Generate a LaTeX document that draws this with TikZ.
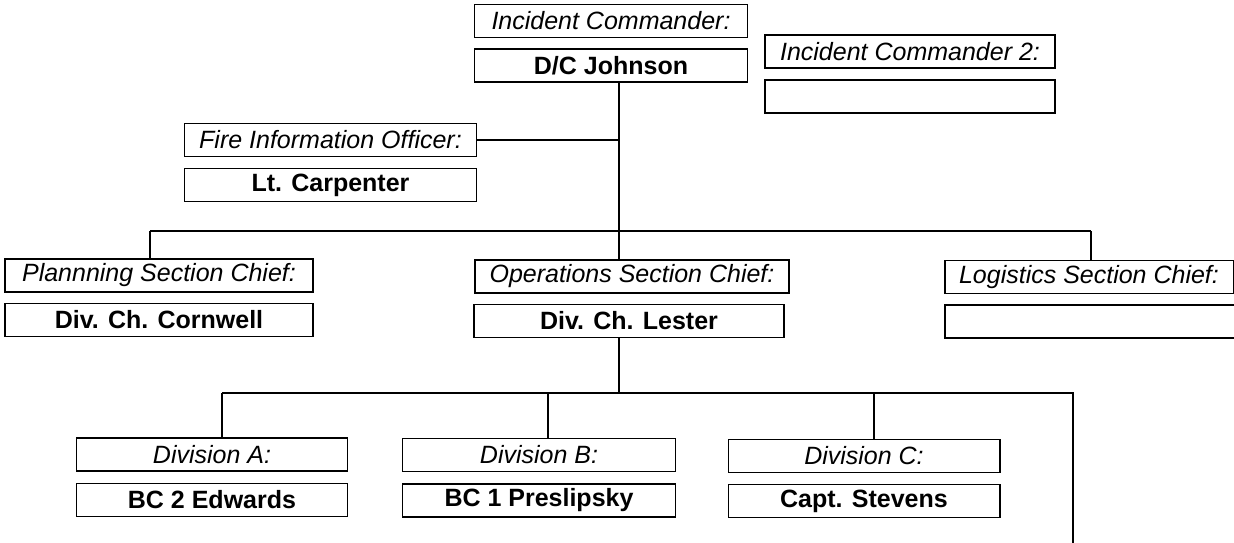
\documentclass[tikz,border=0pt]{standalone}
\usepackage{fontspec}
\setmainfont{Liberation Sans}
\usepackage{tikz}

\begin{document}
\begin{tikzpicture}[x=1pt,y=-1pt]
      \tikzstyle{every node}+=[inner sep=0pt]
      \tikzstyle{title}=[draw=black, line width=1.5pt, rectangle, minimum height=33pt, font=\fontsize{25}{28}\selectfont\itshape]
      \tikzstyle{holder}=[title, font=\fontsize{25}{28}\selectfont\bfseries]
      \tikzstyle{link}=[black, line width=1.3pt]
      \useasboundingbox (0,0) rectangle (1234,542);
      \node [title, minimum width=273pt] (ic) at (611,21) {Incident Commander:};
      \node [holder, minimum width=273pt] (johnson) at (611,65.5) {D/C Johnson};
      \node [title, minimum width=290pt] (ictwo) at (910,51.5) {Incident Commander 2:};
      \node [holder, minimum width=290pt] (ictwoname) at (910,96.5) {};
      \node [title, minimum width=292pt] (fio) at (330.5,140) {Fire Information Officer:};
      \node [holder, minimum width=292pt] (carpenter) at (330.5,185) {Lt. Carpenter};
      \node [title, minimum width=308pt] (planning) at (159,275.5) {Plannning Section Chief:};
      \node [holder, minimum width=308pt] (cornwell) at (159,320) {Div. Ch. Cornwell};
      \node [title, minimum width=314pt] (ops) at (632,276.5) {Operations Section Chief:};
      \node [holder, minimum width=310pt] (lester) at (629,321) {Div. Ch. Lester};
      \node [title, minimum width=288.5pt] (logistics) at (1089,277) {Logistics Section Chief:};
      \node [holder, minimum width=300pt] (logisticsname) at (1095,321.5) {};
      \node [title, minimum width=271pt] (diva) at (212,454.5) {Division A:};
      \node [holder, minimum width=271pt] (edwards) at (212,500) {BC 2 Edwards};
      \node [title, minimum width=273pt] (divb) at (539,455) {Division B:};
      \node [holder, minimum width=273pt] (preslipsky) at (539,500.5) {BC 1 Preslipsky};
      \node [title, minimum width=271.5pt] (divc) at (864,456) {Division C:};
      \node [holder, minimum width=271.5pt] (stevens) at (864,501) {Capt. Stevens};
      \coordinate (hub) at (619,231);
      \coordinate (pbus) at (150,231);
      \coordinate (lbus) at (1091,231);
      \coordinate (dbus) at (619,393);
      \coordinate (abus) at (222,393);
      \coordinate (bbus) at (548,393);
      \coordinate (cbus) at (874,393);
      \coordinate (ebus) at (1073,393);
      \coordinate (eend) at (1073,548);
      \draw [link] (johnson.south -| hub) -- (hub);
      \draw [link] (fio.east) -- (fio.east -| hub);
      \draw [link] (pbus) -- (lbus);
      \draw [link] (pbus) -- (pbus |- planning.north);
      \draw [link] (hub) -- (hub |- ops.north);
      \draw [link] (lbus) -- (lbus |- logistics.north);
      \draw [link] (lester.south -| dbus) -- (dbus);
      \draw [link] (abus) -- (ebus) -- (eend);
      \draw [link] (abus) -- (abus |- diva.north);
      \draw [link] (bbus) -- (bbus |- divb.north);
      \draw [link] (cbus) -- (cbus |- divc.north);
    \end{tikzpicture}
\end{document}
